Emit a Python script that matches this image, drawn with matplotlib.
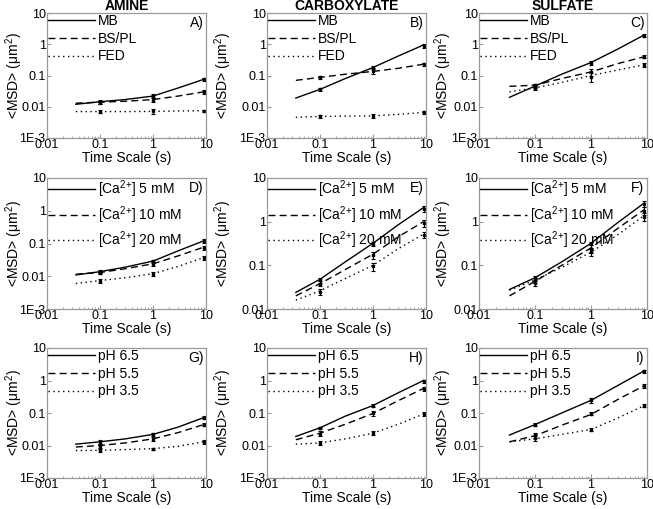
import numpy as np
import matplotlib
matplotlib.use("Agg")
import matplotlib.pyplot as plt
from matplotlib.ticker import LogLocator, FixedLocator, FixedFormatter, NullFormatter

plt.rcParams['font.family'] = ['Liberation Sans', 'DejaVu Sans']
plt.rcParams['mathtext.fontset'] = 'custom'
plt.rcParams['mathtext.rm'] = 'Liberation Sans'
plt.rcParams['mathtext.it'] = 'Liberation Sans:italic'
plt.rcParams['mathtext.bf'] = 'Liberation Sans:bold'
plt.rcParams['mathtext.default'] = 'regular'

# ---------------- data ----------------
t_line = [0.035, 0.1, 0.3, 1, 3, 9]
t_err = [0.1, 1, 9]

col_titles = ["AMINE", "CARBOXYLATE", "SULFATE"]
panel_tags = ["A)", "B)", "C)", "D)", "E)", "F)", "G)", "H)", "I)"]
row_labels = [["MB", "BS/PL", "FED"],
              ["[Ca$^{2{+}}$] 5 mM", "[Ca$^{2{+}}$] 10 mM", "[Ca$^{2{+}}$] 20 mM"],
              ["pH 6.5", "pH 5.5", "pH 3.5"]]

# Row 1: surface chemistry
A_MB = [0.012, 0.0145, 0.017, 0.022, 0.040, 0.075]
A_BS = [0.013, 0.014, 0.015, 0.017, 0.022, 0.030]
A_FED = [0.007, 0.007, 0.007, 0.0071, 0.0073, 0.0075]
A_err_mean = [[0.0145, 0.022, 0.075], [0.014, 0.017, 0.030], [0.007, 0.0071, 0.0075]]
A_err = [[0.002, 0.003, 0.008], [0.0015, 0.003, 0.004], [0.0006, 0.0012, 0.0006]]

B_MB = [0.019, 0.036, 0.080, 0.18, 0.42, 0.95]
B_BS = [0.070, 0.087, 0.11, 0.135, 0.17, 0.23]
B_FED = [0.0046, 0.0049, 0.0050, 0.0051, 0.0057, 0.0066]
B_err_mean = [[0.036, 0.18, 0.90], [0.087, 0.14, 0.23], [0.0049, 0.0051, 0.0066]]
B_err = [[0.003, 0.02, 0.15], [0.01, 0.03, 0.025], [0.0005, 0.0007, 0.0008]]

C_MB = [0.020, 0.046, 0.11, 0.26, 0.70, 2.0]
C_BS = [0.045, 0.049, 0.080, 0.13, 0.24, 0.40]
C_FED = [0.030, 0.040, 0.060, 0.10, 0.15, 0.22]
C_err_mean = [[0.046, 0.26, 1.9], [0.049, 0.13, 0.40], [0.040, 0.09, 0.22]]
C_err = [[0.006, 0.04, 0.2], [0.006, 0.03, 0.05], [0.006, 0.03, 0.03]]

# Row 2: calcium concentration
D_5 = [0.011, 0.0138, 0.019, 0.029, 0.060, 0.12]
D_10 = [0.0115, 0.013, 0.017, 0.024, 0.042, 0.077]
D_20 = [0.006, 0.0074, 0.009, 0.012, 0.020, 0.037]
D_err_mean = [[0.0138, 0.029, 0.12], [0.013, 0.024, 0.075], [0.0072, 0.012, 0.037]]
D_err = [[0.0015, 0.003, 0.015], [0.0015, 0.004, 0.01], [0.0008, 0.0015, 0.005]]

E_5 = [0.024, 0.048, 0.12, 0.32, 0.85, 2.1]
E_10 = [0.020, 0.038, 0.080, 0.18, 0.45, 1.0]
E_20 = [0.016, 0.026, 0.050, 0.10, 0.24, 0.52]
E_err_mean = [[0.046, 0.31, 2.0], [0.038, 0.17, 0.92], [0.025, 0.095, 0.50]]
E_err = [[0.006, 0.04, 0.3], [0.005, 0.03, 0.18], [0.004, 0.02, 0.07]]

F_5 = [0.028, 0.052, 0.12, 0.32, 0.95, 2.7]
F_10 = [0.020, 0.043, 0.10, 0.25, 0.70, 1.9]
F_20 = [0.027, 0.046, 0.09, 0.20, 0.50, 1.4]
F_err_mean = [[0.050, 0.30, 2.6], [0.045, 0.24, 1.8], [0.040, 0.20, 1.3]]
F_err = [[0.006, 0.05, 0.4], [0.006, 0.05, 0.4], [0.006, 0.04, 0.25]]

# Row 3: pH
G_65 = [0.011, 0.013, 0.016, 0.022, 0.037, 0.072]
G_55 = [0.009, 0.010, 0.012, 0.016, 0.025, 0.044]
G_35 = [0.007, 0.0071, 0.0075, 0.008, 0.0095, 0.013]
G_err_mean = [[0.013, 0.022, 0.072], [0.010, 0.016, 0.044], [0.0071, 0.008, 0.013]]
G_err = [[0.002, 0.003, 0.008], [0.0015, 0.002, 0.004], [0.0007, 0.0006, 0.0015]]

H_65 = [0.019, 0.035, 0.080, 0.17, 0.42, 1.0]
H_55 = [0.015, 0.024, 0.045, 0.097, 0.24, 0.57]
H_35 = [0.011, 0.012, 0.016, 0.024, 0.045, 0.093]
H_err_mean = [[0.035, 0.17, 0.95], [0.023, 0.097, 0.55], [0.012, 0.024, 0.093]]
H_err = [[0.003, 0.02, 0.12], [0.004, 0.015, 0.08], [0.0015, 0.003, 0.012]]

I_65 = [0.021, 0.044, 0.10, 0.245, 0.70, 2.0]
I_55 = [0.013, 0.020, 0.042, 0.090, 0.26, 0.70]
I_35 = [0.013, 0.016, 0.022, 0.031, 0.070, 0.17]
I_err_mean = [[0.044, 0.245, 1.9], [0.021, 0.095, 0.70], [0.017, 0.031, 0.17]]
I_err = [[0.005, 0.04, 0.2], [0.004, 0.01, 0.1], [0.003, 0.004, 0.02]]

panels = [
    (A_MB, A_BS, A_FED, A_err_mean, A_err),
    (B_MB, B_BS, B_FED, B_err_mean, B_err),
    (C_MB, C_BS, C_FED, C_err_mean, C_err),
    (D_5, D_10, D_20, D_err_mean, D_err),
    (E_5, E_10, E_20, E_err_mean, E_err),
    (F_5, F_10, F_20, F_err_mean, F_err),
    (G_65, G_55, G_35, G_err_mean, G_err),
    (H_65, H_55, H_35, H_err_mean, H_err),
    (I_65, I_55, I_35, I_err_mean, I_err),
]
ylows = [1e-3, 1e-3, 1e-3, 1e-3, 1e-2, 1e-2, 1e-3, 1e-3, 1e-3]

# ---------------- layout ----------------
W, H = 653, 509
fig = plt.figure(figsize=(W / 100, H / 100), dpi=100)

col_px = [(47, 159), (267, 159), (479, 168)]
row_px = [(13, 138), (178, 309), (348, 478)]
ylab_off = [22, 33, 25]

styles = [dict(ls='-'), dict(ls=(0, (5, 3))), dict(ls=(0, (1, 2.5)))]
ylab_map = {10: "10", 1: "1", 0.1: "0.1", 0.01: "0.01", 1e-3: "1E-3"}
spine_col = '#9a9a9a'

for i, (s1, s2, s3, emeans, errs) in enumerate(panels):
    r, c = divmod(i, 3)
    lx, wpx = col_px[c]
    ty, by = row_px[r]
    ax = fig.add_axes([lx / W, 1 - by / H, wpx / W, (by - ty) / H])
    ax.set_xscale('log')
    ax.set_yscale('log')
    ax.set_xlim(0.01, 10)
    ax.set_ylim(ylows[i], 10)
    lines = []
    for series, st, lab in zip((s1, s2, s3), styles, row_labels[r]):
        ln, = ax.plot(t_line, series, color='black', lw=1.0, label=lab, **st)
        lines.append(ln)
    for m, e in zip(emeans, errs):
        ax.errorbar(t_err, m, yerr=e, fmt='s', ms=1.6, color='black',
                    ecolor='black', elinewidth=0.8, capsize=1.6, capthick=0.8)
    ax.legend(handles=lines, loc='upper left', frameon=False, fontsize=10,
              handlelength=3.4, handletextpad=0.2, labelspacing=0.28,
              borderaxespad=0.0, borderpad=0.05)
    ax.text(0.985, 0.975, panel_tags[i], transform=ax.transAxes, ha='right',
            va='top', fontsize=10)
    yt = [v for v in [1e-3, 1e-2, 0.1, 1, 10] if v >= ylows[i]]
    ax.yaxis.set_major_locator(FixedLocator(yt))
    ax.yaxis.set_major_formatter(FixedFormatter([ylab_map[v] for v in yt]))
    ax.yaxis.set_minor_locator(FixedLocator([]))
    ax.xaxis.set_major_locator(FixedLocator([0.01, 0.1, 1, 10]))
    ax.xaxis.set_major_formatter(FixedFormatter(["0.01", "0.1", "1", "10"]))
    ax.xaxis.set_minor_locator(LogLocator(base=10, subs=np.arange(2, 10)))
    ax.xaxis.set_minor_formatter(NullFormatter())
    ax.tick_params(which='both', direction='in', color=spine_col, labelsize=9,
                   pad=1.0)
    ax.tick_params(which='major', length=3)
    ax.tick_params(which='minor', length=1.5)
    for sp in ax.spines.values():
        sp.set_color(spine_col)
        sp.set_linewidth(0.9)
    ax.set_xlabel("Time Scale (s)", fontsize=10, labelpad=0)
    ax.set_ylabel("<MSD> (μm$^2$)", fontsize=10)
    ax.yaxis.set_label_coords(-ylab_off[c] / wpx, 0.5)
    if r == 0:
        ax.set_title(col_titles[c], fontsize=10, fontweight='bold', pad=1.0)

fig.savefig("out.png", dpi=100)
